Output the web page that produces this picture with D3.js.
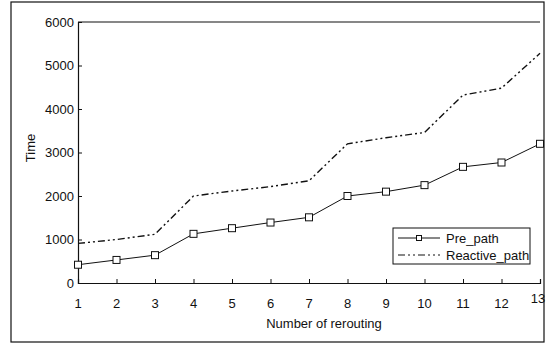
<!DOCTYPE html>
<html><head><meta charset="utf-8">
<script src="https://cdn.jsdelivr.net/npm/d3@7"></script>
<style>
html,body{margin:0;padding:0;background:#fff;}
svg{display:block;font-family:"Liberation Sans",Arial,sans-serif;}
</style></head>
<body>
<svg id="chart" width="552" height="344"></svg>
<script>
const categories = [1,2,3,4,5,6,7,8,9,10,11,12,13];
const prePath = [420,530,640,1130,1260,1390,1510,2000,2100,2250,2670,2770,3200];
const reactivePath = [910,1000,1120,2000,2115,2215,2350,3200,3340,3460,4320,4480,5280];
const yTicks = [0,1000,2000,3000,4000,5000,6000];
const seriesNames = ["Pre_path","Reactive_path"];

const svg = d3.select("#chart");
const x = d3.scaleLinear().domain([1,13]).range([78,540]);
const y = d3.scaleLinear().domain([0,6000]).range([283,22]);
const ink = "#111";
const fs = 13;

// outer frame
svg.append("rect").attr("x",11).attr("y",2).attr("width",533).attr("height",340)
  .attr("fill","none").attr("stroke",ink).attr("stroke-width",1.2);

// top line at 6000
svg.append("line").attr("x1",78).attr("x2",540).attr("y1",y(6000)).attr("y2",y(6000))
  .attr("stroke",ink).attr("stroke-width",1.2);

// y axis
const yAxis = d3.axisRight(y).tickValues(yTicks).tickSize(4).tickFormat("");
const gy = svg.append("g").attr("transform","translate(78,0)").call(yAxis);
gy.select(".domain").attr("stroke",ink).attr("stroke-width",1.2);
gy.selectAll(".tick line").attr("stroke",ink);
svg.append("g").selectAll("text").data(yTicks).join("text")
  .attr("x",74).attr("y",d=>y(d)).attr("dy","0.35em").attr("text-anchor","end")
  .attr("font-size",fs).attr("fill",ink).text(d=>d);

// x axis
const xAxis = d3.axisTop(x).tickValues(categories).tickSize(4).tickFormat("");
const gx = svg.append("g").attr("transform","translate(0,283)").call(xAxis);
gx.select(".domain").attr("stroke",ink).attr("stroke-width",1.2);
gx.selectAll(".tick line").attr("stroke",ink);
svg.append("g").selectAll("text").data(categories).join("text")
  .attr("x",d=>x(d)-(d===13?2:0)).attr("y",d=>d===13?298:303).attr("dy","0.35em").attr("text-anchor","middle")
  .attr("font-size",fs).attr("fill",ink).text(d=>d);

// axis titles
svg.append("text").attr("x",324).attr("y",323).attr("dy","0.35em").attr("text-anchor","middle")
  .attr("font-size",fs).attr("fill",ink).text("Number of rerouting");
svg.append("text").attr("transform","translate(30,148) rotate(-90)").attr("dy","0.35em")
  .attr("text-anchor","middle").attr("font-size",fs).attr("fill",ink).text("Time");

const line = d3.line().x((d,i)=>x(categories[i])).y(d=>y(d));
const dash = "7,3,2,3,2,3";

svg.append("path").datum(reactivePath).attr("d",line).attr("fill","none")
  .attr("stroke",ink).attr("stroke-width",1.4).attr("stroke-dasharray",dash);
svg.append("path").datum(prePath).attr("d",line).attr("fill","none")
  .attr("stroke",ink).attr("stroke-width",1);
svg.append("g").selectAll("rect").data(prePath).join("rect")
  .attr("x",(d,i)=>x(categories[i])-3.5).attr("y",d=>y(d)-3.5).attr("width",7).attr("height",7)
  .attr("fill","#fff").attr("stroke",ink).attr("stroke-width",1);

// legend
const lg = svg.append("g");
lg.append("rect").attr("x",393).attr("y",228).attr("width",137).attr("height",36)
  .attr("fill","#fff").attr("stroke",ink).attr("stroke-width",1);
lg.append("line").attr("x1",398).attr("x2",440).attr("y1",238).attr("y2",238).attr("stroke",ink);
lg.append("rect").attr("x",416.5).attr("y",235.5).attr("width",5).attr("height",5).attr("fill","#fff").attr("stroke",ink);
lg.append("line").attr("x1",398).attr("x2",440).attr("y1",255).attr("y2",255).attr("stroke",ink)
  .attr("stroke-width",1.2).attr("stroke-dasharray",dash);
lg.selectAll("text.lab").data(seriesNames).join("text").attr("class","lab")
  .attr("x",446).attr("y",(d,i)=>238+i*17).attr("dy","0.35em")
  .attr("font-size",fs).attr("fill",ink).text(d=>d);
</script>
</body></html>
